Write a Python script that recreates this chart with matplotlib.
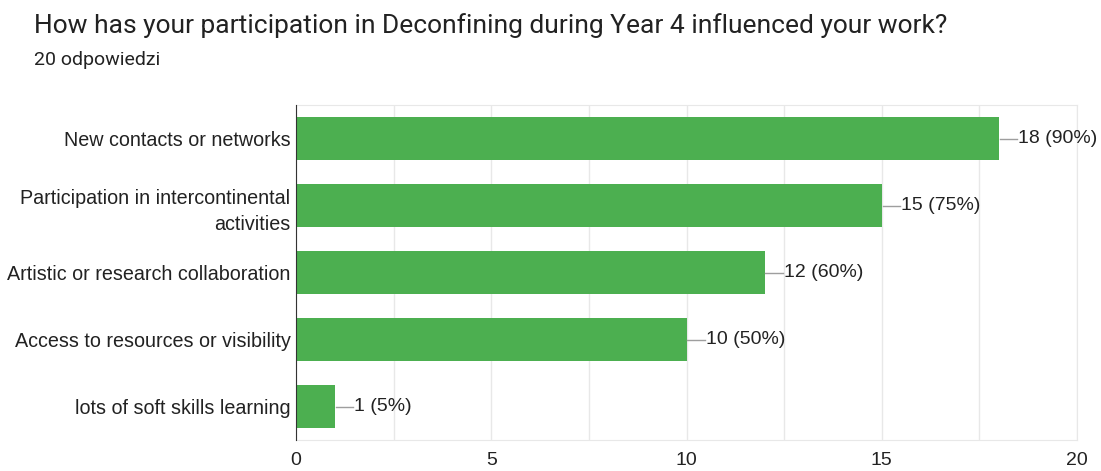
import numpy as np
import matplotlib.pyplot as plt

plt.rcParams['font.family'] = ['Roboto', 'DejaVu Sans']

categories = ['New contacts or networks',
              'Participation in intercontinental\nactivities',
              'Artistic or research collaboration',
              'Access to resources or visibility',
              'lots of soft skills learning']
counts = [18, 15, 12, 10, 1]
total = 20
xticks = [0, 5, 10, 15, 20]

green = '#4caf50'
grid_c = '#e8e8e8'
text_c = '#222222'
arial = ['Liberation Sans', 'DejaVu Sans']

fig = plt.figure(figsize=(11.01, 4.71), dpi=100)
ax = fig.add_axes([296/1101, 1-440/471, (1077-296)/1101, (440-105)/471])

y = np.arange(len(categories))
ax.barh(y, counts, height=0.63, color=green, zorder=3)
ax.set_ylim(len(categories)-0.5, -0.5)
ax.set_xlim(0, 20)

# value labels with short leader line
for yi, c in zip(y, counts):
    x0 = c + 0.02
    x1 = c + 0.47
    ax.plot([x0, x1], [yi, yi], color='#9e9e9e', lw=1, zorder=3, clip_on=False)
    ax.text(x1 + 0.02, yi, f'{c} ({c*100//total}%)', va='center', ha='left',
            fontsize=14, color=text_c, clip_on=False, family=arial)

ax.set_xticks(xticks)
ax.set_xticks(np.arange(0, 20.1, 2.5), minor=True)
ax.grid(axis='x', which='both', color=grid_c, lw=1, zorder=0)
ax.tick_params(axis='x', which='both', length=0, labelsize=14, colors=text_c, pad=15)
ax.set_yticks(y)
ax.set_yticklabels(categories, fontsize=14.2, color=text_c, linespacing=1.5, family=arial)
ax.tick_params(axis='y', length=0, pad=4)
for t in ax.get_xticklabels():
    t.set_verticalalignment('center')
    t.set_family(arial)

for s in ['top', 'right', 'bottom']:
    ax.spines[s].set_color(grid_c)
ax.spines['left'].set_color('#333333')
ax.spines['left'].set_zorder(4)

fig.text(34/1101, 1-26/471, 'How has your participation in Deconfining during Year 4 influenced your work?',
         fontsize=19, color=text_c, va='center', ha='left')
fig.text(34/1101, 1-60/471, '20 odpowiedzi', fontsize=14, color=text_c, va='center', ha='left')

fig.savefig('out.png', dpi=100)
